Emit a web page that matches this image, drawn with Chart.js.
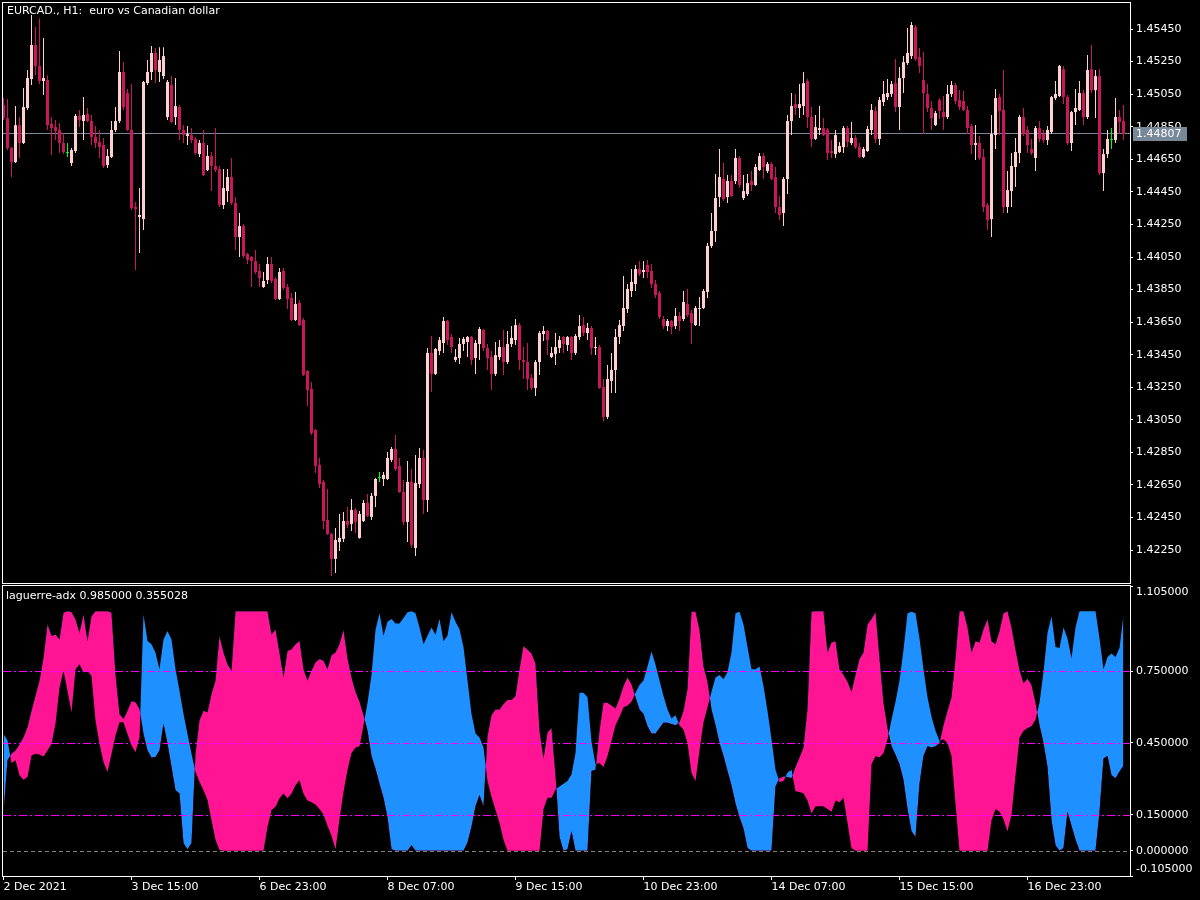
<!DOCTYPE html>
<html>
<head>
<meta charset="utf-8">
<title>EURCAD H1 laguerre-adx</title>
<script src="https://cdn.jsdelivr.net/npm/chart.js"></script>
<style>
  html, body { margin: 0; padding: 0; background: #000; }
  body { width: 1200px; height: 900px; position: relative; overflow: hidden; }
  canvas { position: absolute; left: 0; }
  #price-chart { top: 0; }
  #adx-chart { top: 576px; }
  .pane-title { position: absolute; color: #fff; font: 11px "DejaVu Sans", sans-serif; line-height: 13px; white-space: pre; }
</style>
</head>
<body>
<canvas id="price-chart" width="1200" height="584"></canvas>
<canvas id="adx-chart" width="1200" height="324"></canvas>
<div class="pane-title" id="price-title" style="left:7px;top:4px">EURCAD., H1:  euro vs Canadian dollar</div>
<div class="pane-title" id="adx-title" style="left:6px;top:589px"></div>
<script>
// EURCAD H1 candles, 2 Dec - 17 Dec 2021
const opens = [
  1.44983, 1.44903, 1.44719, 1.44633, 1.44860, 1.44750, 1.44965, 1.45143, 1.45352, 1.45223,
  1.45131, 1.45137, 1.44867, 1.44848, 1.44830, 1.44750, 1.44689, 1.44627, 1.44701, 1.44916,
  1.44885, 1.44928, 1.44885, 1.44787, 1.44756, 1.44738, 1.44615, 1.44664, 1.44830, 1.44885,
  1.45186, 1.45057, 1.44830, 1.44357, 1.44296, 1.44283, 1.45118, 1.45186, 1.45303, 1.45186,
  1.45161, 1.44910, 1.45106, 1.44910, 1.44971, 1.44830, 1.44793, 1.44799, 1.44775, 1.44682,
  1.44750, 1.44584, 1.44670, 1.44609, 1.44590, 1.44369, 1.44455, 1.44541, 1.44382, 1.44173,
  1.44240, 1.44068, 1.44050, 1.44025, 1.43964, 1.43866, 1.43909, 1.44007, 1.43915, 1.43792,
  1.43964, 1.43866, 1.43798, 1.43663, 1.43768, 1.43663, 1.43350, 1.43240, 1.42988, 1.42773,
  1.42669, 1.42435, 1.42349, 1.42196, 1.42300, 1.42319, 1.42429, 1.42411, 1.42497, 1.42325,
  1.42429, 1.42540, 1.42454, 1.42583, 1.42693, 1.42687, 1.42687, 1.42804, 1.42871, 1.42767,
  1.42607, 1.42423, 1.42669, 1.42263, 1.42656, 1.42816, 1.42558, 1.43461, 1.43332, 1.43473,
  1.43522, 1.43657, 1.43559, 1.43418, 1.43430, 1.43516, 1.43528, 1.43559, 1.43430, 1.43516,
  1.43602, 1.43491, 1.43436, 1.43332, 1.43436, 1.43497, 1.43405, 1.43516, 1.43540, 1.43632,
  1.43418, 1.43405, 1.43307, 1.43246, 1.43405, 1.43577, 1.43596, 1.43436, 1.43455, 1.43491,
  1.43559, 1.43510, 1.43559, 1.43461, 1.43559, 1.43632, 1.43583, 1.43614, 1.43491, 1.43497,
  1.43252, 1.43068, 1.43289, 1.43356, 1.43559, 1.43626, 1.43731, 1.43841, 1.43884, 1.43976,
  1.43958, 1.44001, 1.43964, 1.43884, 1.43829, 1.43669, 1.43626, 1.43657, 1.43626, 1.43688,
  1.43669, 1.43761, 1.43706, 1.43632, 1.43731, 1.43737, 1.43835, 1.44118, 1.44210, 1.44418,
  1.44529, 1.44418, 1.44517, 1.44517, 1.44658, 1.44412, 1.44437, 1.44517, 1.44492, 1.44584,
  1.44670, 1.44578, 1.44621, 1.44541, 1.44357, 1.44320, 1.44529, 1.44885, 1.44989, 1.44965,
  1.44977, 1.45131, 1.44910, 1.44775, 1.44830, 1.44842, 1.44830, 1.44701, 1.44682, 1.44695,
  1.44725, 1.44842, 1.44750, 1.44781, 1.44725, 1.44664, 1.44701, 1.44830, 1.44947, 1.44775,
  1.45002, 1.45032, 1.45051, 1.45118, 1.44971, 1.45149, 1.45241, 1.45284, 1.45462, 1.45278,
  1.45137, 1.45051, 1.44965, 1.44860, 1.45014, 1.44940, 1.44910, 1.45051, 1.45106, 1.45014,
  1.45008, 1.44953, 1.44854, 1.44738, 1.44750, 1.44664, 1.44369, 1.44283, 1.44799, 1.45032,
  1.44953, 1.44357, 1.44455, 1.44603, 1.44689, 1.44910, 1.44830, 1.44713, 1.44658, 1.44842,
  1.44805, 1.44768, 1.44818, 1.45026, 1.45039, 1.45204, 1.45032, 1.44750, 1.44940, 1.44953,
  1.45057, 1.44910, 1.45204, 1.45075, 1.45161, 1.44566, 1.44682, 1.44768, 1.44768, 1.44910,
  1.44885
];
const highs = [
  1.45026, 1.45020, 1.44725, 1.44977, 1.44910, 1.45088, 1.45198, 1.45536, 1.45462, 1.45517,
  1.45395, 1.45167, 1.44910, 1.44891, 1.44873, 1.44811, 1.44750, 1.44719, 1.44928, 1.44953,
  1.45032, 1.44965, 1.44922, 1.44854, 1.44830, 1.44781, 1.44713, 1.44885, 1.44971, 1.45315,
  1.45247, 1.45082, 1.45112, 1.44388, 1.44474, 1.45131, 1.45260, 1.45346, 1.45333, 1.45339,
  1.45339, 1.45137, 1.45161, 1.45149, 1.44983, 1.44860, 1.44854, 1.44842, 1.44787, 1.44768,
  1.44830, 1.44738, 1.44695, 1.44842, 1.44609, 1.44590, 1.44590, 1.44658, 1.44418, 1.44320,
  1.44253, 1.44075, 1.44056, 1.44093, 1.44007, 1.43958, 1.44050, 1.44050, 1.43927, 1.43983,
  1.43983, 1.43884, 1.43829, 1.43835, 1.43786, 1.43675, 1.43356, 1.43283, 1.42994, 1.42816,
  1.42681, 1.42626, 1.42355, 1.42386, 1.42472, 1.42484, 1.42515, 1.42564, 1.42509, 1.42490,
  1.42558, 1.42595, 1.42601, 1.42693, 1.42730, 1.42730, 1.42853, 1.42883, 1.42957, 1.42816,
  1.42681, 1.42797, 1.42748, 1.42834, 1.42877, 1.42865, 1.43491, 1.43565, 1.43491, 1.43559,
  1.43682, 1.43663, 1.43577, 1.43485, 1.43553, 1.43559, 1.43565, 1.43565, 1.43540, 1.43620,
  1.43608, 1.43516, 1.43473, 1.43528, 1.43540, 1.43602, 1.43596, 1.43626, 1.43669, 1.43645,
  1.43497, 1.43522, 1.43332, 1.43418, 1.43596, 1.43626, 1.43602, 1.43497, 1.43583, 1.43565,
  1.43565, 1.43565, 1.43565, 1.43577, 1.43694, 1.43682, 1.43645, 1.43626, 1.43559, 1.43510,
  1.43301, 1.43387, 1.43461, 1.43608, 1.43663, 1.43933, 1.43884, 1.43976, 1.44001, 1.44025,
  1.44025, 1.44032, 1.44007, 1.43909, 1.43841, 1.43688, 1.43669, 1.43663, 1.43737, 1.43712,
  1.43841, 1.43854, 1.43725, 1.43749, 1.43804, 1.43854, 1.44136, 1.44320, 1.44560, 1.44713,
  1.44627, 1.44553, 1.44553, 1.44713, 1.44670, 1.44553, 1.44560, 1.44578, 1.44621, 1.44689,
  1.44689, 1.44633, 1.44633, 1.44603, 1.44425, 1.44541, 1.44922, 1.45057, 1.45051, 1.45112,
  1.45186, 1.45143, 1.44971, 1.44922, 1.44977, 1.44903, 1.44842, 1.44768, 1.44830, 1.44756,
  1.44854, 1.44854, 1.44879, 1.44799, 1.44750, 1.44725, 1.44854, 1.44989, 1.44971, 1.45032,
  1.45131, 1.45143, 1.45131, 1.45266, 1.45217, 1.45284, 1.45456, 1.45493, 1.45475, 1.45333,
  1.45309, 1.45112, 1.45008, 1.44947, 1.45026, 1.45039, 1.45106, 1.45131, 1.45118, 1.45075,
  1.45069, 1.44977, 1.44867, 1.44860, 1.44793, 1.44713, 1.44382, 1.44922, 1.45082, 1.45051,
  1.45198, 1.44578, 1.44689, 1.44781, 1.44922, 1.44965, 1.44854, 1.44775, 1.44854, 1.44885,
  1.44830, 1.44854, 1.45039, 1.45131, 1.45229, 1.45223, 1.45045, 1.44947, 1.45082, 1.45131,
  1.45075, 1.45290, 1.45352, 1.45198, 1.45204, 1.44713, 1.44830, 1.44842, 1.45026, 1.44953,
  1.44983
];
const lows = [
  1.44891, 1.44707, 1.44541, 1.44627, 1.44658, 1.44744, 1.44953, 1.45106, 1.45167, 1.45112,
  1.45045, 1.44830, 1.44676, 1.44768, 1.44689, 1.44682, 1.44664, 1.44609, 1.44689, 1.44848,
  1.44768, 1.44879, 1.44738, 1.44719, 1.44658, 1.44597, 1.44597, 1.44658, 1.44818, 1.44873,
  1.44953, 1.44824, 1.44339, 1.43970, 1.44075, 1.44216, 1.45106, 1.45137, 1.45118, 1.45125,
  1.45143, 1.44891, 1.44873, 1.44860, 1.44768, 1.44750, 1.44738, 1.44750, 1.44676, 1.44664,
  1.44547, 1.44578, 1.44455, 1.44572, 1.44357, 1.44345, 1.44388, 1.44369, 1.44093, 1.44050,
  1.44044, 1.44007, 1.43866, 1.43946, 1.43866, 1.43860, 1.43884, 1.43890, 1.43786, 1.43786,
  1.43847, 1.43731, 1.43657, 1.43657, 1.43626, 1.43319, 1.43135, 1.42957, 1.42724, 1.42632,
  1.42380, 1.42343, 1.42091, 1.42110, 1.42245, 1.42300, 1.42386, 1.42368, 1.42355, 1.42319,
  1.42423, 1.42454, 1.42435, 1.42515, 1.42669, 1.42644, 1.42681, 1.42791, 1.42736, 1.42601,
  1.42404, 1.42300, 1.42263, 1.42214, 1.42632, 1.42472, 1.42484, 1.43221, 1.43326, 1.43448,
  1.43461, 1.43510, 1.43461, 1.43405, 1.43393, 1.43473, 1.43436, 1.43387, 1.43332, 1.43418,
  1.43473, 1.43356, 1.43233, 1.43319, 1.43418, 1.43326, 1.43393, 1.43497, 1.43510, 1.43356,
  1.43301, 1.43233, 1.43233, 1.43197, 1.43326, 1.43534, 1.43448, 1.43430, 1.43387, 1.43461,
  1.43461, 1.43473, 1.43418, 1.43448, 1.43540, 1.43565, 1.43540, 1.43448, 1.43448, 1.43240,
  1.43043, 1.43055, 1.43215, 1.43215, 1.43516, 1.43596, 1.43706, 1.43804, 1.43841, 1.43933,
  1.43921, 1.43921, 1.43860, 1.43798, 1.43669, 1.43608, 1.43596, 1.43577, 1.43608, 1.43596,
  1.43657, 1.43682, 1.43516, 1.43626, 1.43626, 1.43731, 1.43798, 1.44105, 1.44142, 1.44357,
  1.44394, 1.44382, 1.44418, 1.44498, 1.44474, 1.44400, 1.44425, 1.44455, 1.44486, 1.44578,
  1.44529, 1.44566, 1.44523, 1.44320, 1.44277, 1.44240, 1.44437, 1.44799, 1.44922, 1.44903,
  1.44922, 1.44842, 1.44725, 1.44768, 1.44799, 1.44793, 1.44646, 1.44658, 1.44658, 1.44689,
  1.44689, 1.44725, 1.44738, 1.44713, 1.44658, 1.44658, 1.44695, 1.44799, 1.44750, 1.44738,
  1.44977, 1.45014, 1.45032, 1.44940, 1.44830, 1.45057, 1.45229, 1.45266, 1.45254, 1.45180,
  1.44805, 1.44940, 1.44830, 1.44854, 1.44897, 1.44830, 1.44897, 1.45032, 1.44989, 1.44953,
  1.44947, 1.44805, 1.44682, 1.44646, 1.44646, 1.44326, 1.44216, 1.44173, 1.44713, 1.44799,
  1.44320, 1.44320, 1.44357, 1.44480, 1.44627, 1.44793, 1.44689, 1.44676, 1.44578, 1.44756,
  1.44750, 1.44738, 1.44805, 1.45014, 1.45032, 1.44989, 1.44738, 1.44701, 1.44860, 1.44947,
  1.44860, 1.44897, 1.45057, 1.44903, 1.44553, 1.44455, 1.44658, 1.44713, 1.44750, 1.44805,
  1.44768
];
const closes = [
  1.44903, 1.44719, 1.44633, 1.44860, 1.44750, 1.44971, 1.45149, 1.45352, 1.45223, 1.45131,
  1.45149, 1.44860, 1.44842, 1.44824, 1.44750, 1.44695, 1.44689, 1.44707, 1.44916, 1.44891,
  1.44922, 1.44885, 1.44787, 1.44750, 1.44725, 1.44609, 1.44670, 1.44830, 1.44885, 1.45186,
  1.44971, 1.44830, 1.44351, 1.44345, 1.44308, 1.45125, 1.45186, 1.45303, 1.45198, 1.45260,
  1.45284, 1.45125, 1.44879, 1.44977, 1.44830, 1.44799, 1.44805, 1.44768, 1.44689, 1.44750,
  1.44553, 1.44670, 1.44609, 1.44584, 1.44369, 1.44474, 1.44541, 1.44382, 1.44173, 1.44240,
  1.44056, 1.44032, 1.44025, 1.43958, 1.43921, 1.43903, 1.44007, 1.43903, 1.43792, 1.43958,
  1.43860, 1.43792, 1.43663, 1.43761, 1.43632, 1.43326, 1.43233, 1.42969, 1.42767, 1.42656,
  1.42429, 1.42349, 1.42196, 1.42312, 1.42325, 1.42429, 1.42405, 1.42497, 1.42423, 1.42472,
  1.42540, 1.42460, 1.42583, 1.42687, 1.42693, 1.42712, 1.42816, 1.42871, 1.42748, 1.42607,
  1.42423, 1.42669, 1.42282, 1.42662, 1.42816, 1.42558, 1.43461, 1.43332, 1.43485, 1.43540,
  1.43657, 1.43540, 1.43497, 1.43436, 1.43516, 1.43547, 1.43559, 1.43418, 1.43522, 1.43608,
  1.43491, 1.43430, 1.43332, 1.43448, 1.43497, 1.43405, 1.43516, 1.43553, 1.43632, 1.43418,
  1.43405, 1.43301, 1.43246, 1.43405, 1.43583, 1.43596, 1.43540, 1.43461, 1.43497, 1.43540,
  1.43516, 1.43559, 1.43461, 1.43565, 1.43626, 1.43583, 1.43614, 1.43491, 1.43497, 1.43246,
  1.43068, 1.43301, 1.43356, 1.43559, 1.43632, 1.43737, 1.43854, 1.43897, 1.43976, 1.43946,
  1.43970, 1.43958, 1.43884, 1.43817, 1.43682, 1.43626, 1.43657, 1.43620, 1.43688, 1.43657,
  1.43774, 1.43694, 1.43645, 1.43737, 1.43737, 1.43841, 1.44118, 1.44210, 1.44412, 1.44541,
  1.44406, 1.44517, 1.44425, 1.44658, 1.44492, 1.44455, 1.44504, 1.44492, 1.44603, 1.44670,
  1.44603, 1.44621, 1.44529, 1.44357, 1.44308, 1.44529, 1.44885, 1.44977, 1.44965, 1.44989,
  1.45118, 1.44910, 1.44775, 1.44848, 1.44842, 1.44799, 1.44689, 1.44689, 1.44799, 1.44732,
  1.44842, 1.44756, 1.44781, 1.44725, 1.44664, 1.44713, 1.44836, 1.44953, 1.44775, 1.45014,
  1.45051, 1.45057, 1.45112, 1.44971, 1.45149, 1.45247, 1.45303, 1.45475, 1.45266, 1.45223,
  1.45057, 1.44965, 1.44903, 1.44934, 1.44947, 1.44910, 1.45051, 1.45106, 1.45008, 1.44971,
  1.44953, 1.44842, 1.44738, 1.44750, 1.44658, 1.44357, 1.44277, 1.44805, 1.45026, 1.44947,
  1.44357, 1.44461, 1.44609, 1.44695, 1.44910, 1.44805, 1.44738, 1.44689, 1.44842, 1.44775,
  1.44768, 1.44830, 1.45032, 1.45051, 1.45223, 1.45032, 1.44750, 1.44940, 1.44965, 1.45057,
  1.44910, 1.45198, 1.45075, 1.45161, 1.44566, 1.44682, 1.44775, 1.44768, 1.44910, 1.44879,
  1.44807
];

// laguerre-adx buffers (blue where adxUp > adxDn, pink otherwise)
const adxUp = [
  0.488, 0.460, 0.367, 0.378, 0.315, 0.297, 0.308, 0.398, 0.405, 0.402,
  0.394, 0.419, 0.447, 0.530, 0.682, 0.751, 0.668, 0.578, 0.758, 0.779,
  0.744, 0.751, 0.730, 0.544, 0.447, 0.371, 0.329, 0.405, 0.481, 0.537,
  0.537, 0.488, 0.440, 0.412, 0.474, 0.986, 0.876, 0.862, 0.827, 0.758,
  0.882, 0.917, 0.882, 0.758, 0.668, 0.571, 0.488, 0.405, 0.329, 0.288,
  0.253, 0.212, 0.129, 0.046, 0.004, 0, 0, 0, 0, 0,
  0, 0, 0, 0, 0, 0, 0.101, 0.170, 0.184, 0.219,
  0.239, 0.219, 0.239, 0.274, 0.295, 0.238, 0.210, 0.203, 0.193, 0.175,
  0.152, 0.105, 0.063, 0.007, 0.133, 0.245, 0.338, 0.408, 0.431, 0.436,
  0.524, 0.618, 0.734, 0.921, 0.991, 0.897, 0.956, 0.967, 0.949, 0.949,
  0.972, 0.995, 1.000, 0.991, 0.932, 0.862, 0.897, 0.932, 0.902, 0.967,
  0.874, 0.897, 0.995, 0.956, 0.925, 0.851, 0.711, 0.571, 0.490, 0.473,
  0.431, 0.291, 0.226, 0.170, 0.117, 0.047, 0, 0, 0, 0,
  0, 0, 0, 0, 0, 0.175, 0.221, 0.221, 0.256, 0.268,
  0.280, 0.291, 0.319, 0.408, 0.660, 0.660, 0.641, 0.455, 0.361, 0.366,
  0.350, 0.396, 0.459, 0.524, 0.559, 0.599, 0.606, 0.622, 0.660, 0.692,
  0.711, 0.769, 0.832, 0.776, 0.711, 0.646, 0.590, 0.552, 0.566, 0.524,
  0.506, 0.450, 0.326, 0.291, 0.420, 0.536, 0.599, 0.664, 0.723, 0.734,
  0.716, 0.746, 0.828, 0.991, 0.998, 0.944, 0.851, 0.758, 0.758, 0.769,
  0.688, 0.583, 0.466, 0.338, 0.287, 0.291, 0.326, 0.338, 0.249, 0.245,
  0.240, 0.210, 0.156, 0.186, 0.186, 0.186, 0.175, 0.163, 0.210, 0.203,
  0.221, 0.117, 0.012, 0, 0, 0, 0, 0.361, 0.396, 0.389,
  0.408, 0.466, 0.548, 0.622, 0.711, 0.839, 0.991, 0.998, 0.991, 0.886,
  0.758, 0.641, 0.559, 0.501, 0.459, 0.466, 0.450, 0.396, 0.198, 0,
  0, 0, 0, 0, 0, 0, 0, 0.128, 0.175, 0.163,
  0.133, 0.082, 0.152, 0.315, 0.473, 0.501, 0.513, 0.520, 0.548, 0.618,
  0.746, 0.909, 0.979, 0.851, 0.846, 0.932, 0.886, 0.804, 0.932, 1.000,
  1.000, 1.000, 1.000, 1.000, 0.886, 0.758, 0.809, 0.823, 0.809, 0.846,
  0.985
];
const adxDn = [
  0.156, 0.378, 0.405, 0.419, 0.444, 0.474, 0.516, 0.585, 0.647, 0.710,
  0.806, 0.945, 0.896, 0.903, 0.882, 0.993, 1.000, 0.997, 0.965, 0.910,
  0.986, 0.876, 0.979, 1.000, 1.000, 1.000, 1.000, 0.993, 0.737, 0.571,
  0.550, 0.585, 0.624, 0.620, 0.592, 0.488, 0.419, 0.389, 0.391, 0.419,
  0.530, 0.447, 0.350, 0.253, 0.239, 0.032, 0.007, 0.032, 0.405, 0.544,
  0.585, 0.578, 0.654, 0.710, 0.896, 0.827, 0.779, 0.751, 1.000, 1.000,
  1.000, 1.000, 1.000, 1.000, 1.000, 1.000, 1.000, 0.903, 0.924, 0.827,
  0.723, 0.834, 0.841, 0.862, 0.876, 0.758, 0.711, 0.751, 0.786, 0.800,
  0.793, 0.758, 0.816, 0.828, 0.862, 0.921, 0.804, 0.723, 0.664, 0.622,
  0.566, 0.501, 0.396, 0.343, 0.280, 0.221, 0.140, 0.007, 0, 0,
  0, 0, 0.023, 0, 0, 0, 0, 0, 0, 0,
  0, 0, 0, 0, 0, 0, 0.035, 0.100, 0.186, 0.233,
  0.186, 0.478, 0.566, 0.590, 0.590, 0.613, 0.629, 0.629, 0.646, 0.758,
  0.855, 0.839, 0.823, 0.781, 0.501, 0.385, 0.494, 0.513, 0.315, 0.058,
  0, 0.007, 0.082, 0, 0, 0, 0, 0.333, 0.338, 0.501,
  0.618, 0.618, 0.606, 0.594, 0.636, 0.688, 0.723, 0.695, 0.641, 0.590,
  0.571, 0.520, 0.490, 0.490, 0.513, 0.534, 0.534, 0.529, 0.524, 0.536,
  0.583, 0.676, 0.998, 0.998, 0.921, 0.769, 0.706, 0.590, 0.524, 0.450,
  0.396, 0.333, 0.273, 0.198, 0.140, 0.093, 0.012, 0, 0, 0,
  0, 0, 0, 0.268, 0.303, 0.310, 0.308, 0.303, 0.350, 0.389,
  0.431, 0.594, 0.998, 1.000, 1.000, 1.000, 0.828, 0.869, 0.874, 0.758,
  0.734, 0.706, 0.664, 0.734, 0.800, 0.828, 0.944, 0.967, 0.995, 0.804,
  0.618, 0.513, 0.436, 0.401, 0.361, 0.296, 0.175, 0.082, 0.058, 0.280,
  0.396, 0.436, 0.431, 0.436, 0.450, 0.524, 0.583, 0.641, 0.804, 1.000,
  1.000, 0.932, 0.828, 0.874, 0.869, 0.925, 0.967, 0.874, 0.862, 0.916,
  0.991, 1.000, 0.932, 0.839, 0.753, 0.699, 0.718, 0.692, 0.618, 0.524,
  0.450, 0.350, 0.128, 0.023, 0, 0.012, 0.163, 0.105, 0.047, 0,
  0, 0, 0, 0, 0.163, 0.385, 0.396, 0.315, 0.303, 0.331,
  0.355028
];

const timeLabels = ['2 Dec 2021', '3 Dec 15:00', '6 Dec 23:00', '8 Dec 07:00', '9 Dec 15:00',
  '10 Dec 23:00', '14 Dec 07:00', '15 Dec 15:00', '16 Dec 23:00'];
const barsPerLabel = 32;
const priceTicks = [1.42250, 1.42450, 1.42650, 1.42850, 1.43050, 1.43250, 1.43450, 1.43650, 1.43850,
  1.44050, 1.44250, 1.44450, 1.44650, 1.44850, 1.45050, 1.45250, 1.45450];
const adxTicks = [-0.105, 0, 0.15, 0.45, 0.75, 1.105];
const adxLevels = [0.75, 0.45, 0.15];
const priceMin = 1.42048, priceMax = 1.45610;
const adxMin = -0.105, adxMax = 1.105;
const bidPrice = closes[closes.length - 1];

const bullColor = '#FFD0D0';
const bearColor = '#C8175C';
const dojiColor = '#00FF00';
const upFill = '#1E90FF';
const dnFill = '#FF1493';
const levelColor = '#FF00FF';
const zeroColor = '#808080';
const font = { family: 'DejaVu Sans', size: 11 };

// 4 px per bar across the pane
const xMin = -0.125, xMax = 281.625;

document.getElementById('adx-title').textContent =
  'laguerre-adx ' + adxUp[adxUp.length - 1].toFixed(6) + ' ' + adxDn[adxDn.length - 1].toFixed(6);

function candleColor(i) {
  if (closes[i] > opens[i]) return bullColor;
  if (closes[i] < opens[i]) return bearColor;
  return dojiColor;
}

// dashed 1px row drawn with filled rects so it stays crisp
function dashedRow(ctx, x0, x1, y, pattern, color) {
  ctx.fillStyle = color;
  let x = x0, k = 0;
  while (x < x1) {
    const len = pattern[k % pattern.length];
    if (k % 2 === 0) ctx.fillRect(x, y, Math.min(len, x1 - x), 1);
    x += len;
    k++;
  }
}

const paneFrame = {
  id: 'paneFrame',
  afterDraw(chart) {
    const { ctx, chartArea: a } = chart;
    ctx.save();
    ctx.strokeStyle = '#FFFFFF';
    ctx.lineWidth = 1;
    ctx.strokeRect(a.left - 0.5, a.top - 0.5, a.right - a.left + 1, a.bottom - a.top + 1);
    ctx.restore();
  }
};

const bidLine = {
  id: 'bidLine',
  beforeDatasetsDraw(chart) {
    const { ctx, chartArea: a, scales: { y } } = chart;
    const py = Math.round(y.getPixelForValue(bidPrice)) - 1;
    ctx.save();
    ctx.fillStyle = '#778899';
    ctx.fillRect(a.left, py, a.right - a.left, 1);
    ctx.restore();
  },
  afterDraw(chart) {
    const { ctx, chartArea: a, scales: { y } } = chart;
    const py = Math.round(y.getPixelForValue(bidPrice)) - 1;
    ctx.save();
    ctx.fillStyle = '#778899';
    ctx.fillRect(a.right + 3, py - 6, 54, 14);
    ctx.fillStyle = '#FFFFFF';
    ctx.font = '11px "DejaVu Sans"';
    ctx.textAlign = 'left';
    ctx.textBaseline = 'middle';
    ctx.fillText(bidPrice.toFixed(5), a.right + 6, py + 1);
    ctx.restore();
  }
};

// indicator levels, drawn last so they sit over the fill
const levelLines = {
  id: 'levelLines',
  afterDraw(chart) {
    const { ctx, chartArea: a, scales: { y } } = chart;
    ctx.save();
    ctx.globalAlpha = 1;
    ctx.globalCompositeOperation = 'source-over';
    adxLevels.forEach(v => {
      dashedRow(ctx, a.left, a.right, Math.round(y.getPixelForValue(v)), [8, 3, 2, 3], levelColor);
    });
    dashedRow(ctx, a.left, a.right, Math.round(y.getPixelForValue(0)), [4, 3], zeroColor);
    ctx.restore();
  }
};

new Chart(document.getElementById('price-chart'), {
  type: 'bar',
  data: {
    datasets: [
      {
        data: opens.map((o, i) => ({ x: i, y: [lows[i], highs[i]] })),
        backgroundColor: ctx => candleColor(ctx.dataIndex),
        barThickness: 1,
        grouped: false,
        borderWidth: 0,
        inflateAmount: 0
      },
      {
        data: opens.map((o, i) => ({ x: i, y: [o, closes[i]] })),
        backgroundColor: ctx => candleColor(ctx.dataIndex),
        barThickness: 3,
        grouped: false,
        borderWidth: 0,
        minBarLength: 1,
        inflateAmount: 0
      }
    ]
  },
  options: {
    responsive: false,
    animation: false,
    layout: { autoPadding: false, padding: { left: 3, top: 3, right: 0, bottom: 1 } },
    plugins: { legend: { display: false }, tooltip: { enabled: false } },
    scales: {
      x: { type: 'linear', min: xMin, max: xMax, offset: false, display: false },
      y: {
        position: 'right',
        min: priceMin,
        max: priceMax,
        afterBuildTicks: s => { s.ticks = priceTicks.map(v => ({ value: v })); },
        afterFit: s => { s.width = 70; s.paddingTop = 0; s.paddingBottom = 0; },
        ticks: { color: '#FFFFFF', font, padding: 3, callback: v => v.toFixed(5) },
        grid: { drawOnChartArea: false, drawTicks: true, tickLength: 3, color: '#FFFFFF' },
        border: { display: false }
      }
    }
  },
  plugins: [bidLine, paneFrame]
});

new Chart(document.getElementById('adx-chart'), {
  type: 'line',
  data: {
    datasets: [
      {
        data: adxUp.map((v, i) => ({ x: i, y: v })),
        borderWidth: 0,
        borderColor: 'rgba(0,0,0,0)',
        pointRadius: 0,
        tension: 0,
        fill: { target: 1, above: upFill, below: dnFill }
      },
      {
        data: adxDn.map((v, i) => ({ x: i, y: v })),
        borderWidth: 0,
        borderColor: 'rgba(0,0,0,0)',
        pointRadius: 0,
        tension: 0,
        fill: false
      }
    ]
  },
  options: {
    responsive: false,
    animation: false,
    layout: { autoPadding: false, padding: { left: 3, top: 10, right: 0, bottom: 0 } },
    plugins: { legend: { display: false }, tooltip: { enabled: false } },
    scales: {
      x: {
        type: 'linear',
        min: xMin,
        max: xMax,
        offset: false,
        afterBuildTicks: s => { s.ticks = timeLabels.map((_, i) => ({ value: i * barsPerLabel })); },
        afterFit: s => { s.height = 24; s.paddingLeft = 0; s.paddingRight = 0; },
        ticks: {
          color: '#FFFFFF', font, align: 'start', maxRotation: 0, autoSkip: false, padding: 1,
          callback: (v, i) => timeLabels[i]
        },
        grid: { drawOnChartArea: false, drawTicks: true, tickLength: 4, color: '#FFFFFF' },
        border: { display: false }
      },
      y: {
        position: 'right',
        min: adxMin,
        max: adxMax,
        afterBuildTicks: s => { s.ticks = adxTicks.map(v => ({ value: v })); },
        afterFit: s => { s.width = 70; s.paddingTop = 0; s.paddingBottom = 0; },
        ticks: {
          color: '#FFFFFF', font, padding: 3,
          callback: v => {
            const t = v.toFixed(6);
            if (v >= adxMax) return ['', t];
            if (v <= adxMin) return [t, ''];
            return t;
          }
        },
        grid: { drawOnChartArea: false, drawTicks: true, tickLength: 3, color: '#FFFFFF' },
        border: { display: false }
      }
    }
  },
  plugins: [levelLines, paneFrame]
});
</script>
</body>
</html>
